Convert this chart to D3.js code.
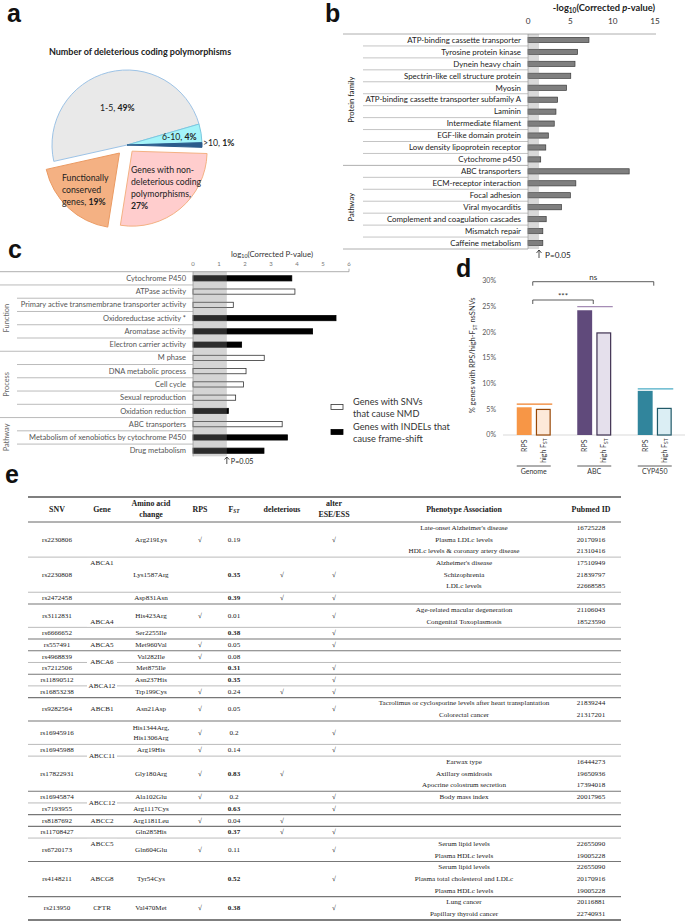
<!DOCTYPE html>
<html><head><meta charset="utf-8">
<script src="https://cdn.jsdelivr.net/npm/d3@7"></script>
<style>body{margin:0;background:#fff}svg{display:block}</style>
</head><body>
<svg id="chart" width="685" height="922"></svg>
<script>
// ---------- DATA ----------
// Panel a
const pieLabels = ["1-5", "6-10", ">10", "Genes with non-deleterious coding polymorphisms", "Functionally conserved genes"];
const pieValues = [49, 4, 1, 27, 19];
// Panel b
const bCategories = ["ATP-binding cassette transporter","Tyrosine protein kinase","Dynein heavy chain","Spectrin-like cell structure protein","Myosin","ATP-binding cassette transporter subfamily A","Laminin","Intermediate filament","EGF-like domain protein","Low density lipoprotein receptor","Cytochrome p450","ABC transporters","ECM-receptor interaction","Focal adhesion","Viral myocarditis","Complement and coagulation cascades","Mismatch repair","Caffeine metabolism"];
const bValues = [7.2,5.85,5.55,5.05,4.55,3.5,3.3,3.1,2.4,2.1,1.5,11.95,5.65,5.0,3.95,2.15,1.75,1.75];
const bGroups = [{name:"Protein family", from:0, to:10},{name:"Pathway", from:11, to:17}];
const bTicks = [0,5,10,15];
// Panel c
const cCategories = ["Cytochrome P450","ATPase activity","Primary active transmembrane transporter activity","Oxidoreductase activity *","Aromatase activity","Electron carrier activity","M phase","DNA metabolic process","Cell cycle","Sexual reproduction","Oxidation reduction","ABC transporters","Metabolism of xenobiotics by cytochrome P450","Drug metabolism"];
const cValues = [3.8,3.92,1.55,5.5,4.6,1.87,2.74,2.04,1.94,1.64,1.36,3.43,3.63,2.73];
const cTypes = ["indel","snv","snv","indel","indel","indel","snv","snv","snv","snv","indel","snv","indel","indel"];
const cGroups = [{name:"Function", from:1, to:5},{name:"Process", from:6, to:10},{name:"Pathway", from:11, to:13}];
const cTicks = [0,1,2,3,4,5,6];
// Panel d
const dGroups = ["Genome","ABC","CYP450"];
const dRPS = [0.054, 0.243, 0.086];
const dHighFst = [0.051, 0.200, 0.053];
const dRef = [0.06, 0.25, 0.09];
const dTicks = [0,0.05,0.10,0.15,0.20,0.25,0.30];
// Panel e (table)
const tSNV = ["rs2230806","rs2230808","rs2472458","rs3112831","rs6666652","rs557491","rs4968839","rs7212506","rs11890512","rs16853238","rs9282564","rs16945916","rs16945988","rs17822931","rs16945874","rs7193955","rs8187692","rs11708427","rs6720173","rs4148211","rs213950"];
const tGene = ["ABCA1","ABCA1","ABCA1","ABCA4","ABCA4","ABCA5","ABCA6","ABCA6","ABCA12","ABCA12","ABCB1","ABCC11","ABCC11","ABCC11","ABCC12","ABCC12","ABCC2","ABCC5","ABCC5","ABCG8","CFTR"];
const tAA = [["Arg219Lys"],["Lys1587Arg"],["Asp831Asn"],["His423Arg"],["Ser2255Ile"],["Met960Val"],["Val282Ile"],["Met875Ile"],["Asn237His"],["Trp199Cys"],["Asn21Asp"],["His1344Arg,","His1306Arg"],["Arg19His"],["Gly180Arg"],["Ala102Glu"],["Arg1117Cys"],["Arg1181Leu"],["Gln285His"],["Gln604Glu"],["Tyr54Cys"],["Val470Met"]];
const tRPS = [1,0,0,1,0,1,1,0,0,1,1,1,1,1,1,0,1,0,1,0,1];
const tFst = ["0.19","0.35","0.39","0.01","0.38","0.05","0.08","0.31","0.35","0.24","0.05","0.2","0.14","0.83","0.2","0.63","0.04","0.37","0.11","0.52","0.38"];
const tFstBold = [0,1,1,0,1,0,0,1,1,0,0,0,0,1,0,1,0,1,0,1,1];
const tDel = [0,1,1,0,0,0,0,0,0,1,0,0,0,1,0,0,1,1,0,0,0];
const tEse = [1,1,1,1,1,1,0,1,1,1,1,1,1,0,1,1,0,1,1,1,1];
const tPheno = [["Late-onset Alzheimer's disease","Plasma LDLc levels","HDLc levels & coronary artery disease"],["Alzheimer's disease","Schizophrenia","LDLc levels"],[],["Age-related macular degeneration","Congenital Toxoplasmosis"],[],[],[],[],[],[],["Tacrolimus or cyclosporine levels after heart transplantation","Colorectal cancer"],[],[],["Earwax type","Axillary osmidrosis","Apocrine colostrum secretion"],["Body mass index"],[],[],[],["Serum lipid levels","Plasma HDLc levels"],["Serum lipid levels","Plasma total cholesterol and LDLc","Plasma HDLc levels"],["Lung cancer","Papillary thyroid cancer"]];
const tPubmed = [["16725228","20170916","21310416"],["17510949","21839797","22668585"],[],["21106043","18523590"],[],[],[],[],[],[],["21839244","21317201"],[],[],["16444273","19650936","17394018"],["20017965"],[],[],[],["22655090","19005228"],["22655090","20170916","19005228"],["20116881","22740931"]];

// ---------- DRAW ----------
const svg = d3.select("#chart");
const SANS = "Lato, 'Open Sans', 'Noto Sans', sans-serif";
const SERIF = "'Liberation Serif', 'DejaVu Serif', serif";
const ARIAL = "'Liberation Sans', Arial, sans-serif";

function panelLabel(t, x, y) {
  svg.append("text").attr("x", x).attr("y", y).text(t)
    .attr("font-family", ARIAL).attr("font-weight", "bold").attr("font-size", 25).attr("fill", "#111");
}
panelLabel("a", 7, 22); panelLabel("b", 325, 22); panelLabel("c", 8, 258); panelLabel("d", 456, 277); panelLabel("e", 5, 483);

// ===== Panel a =====
(function(){
  const g = svg.append("g");
  g.append("text").attr("x", 140).attr("y", 55).attr("text-anchor", "middle")
    .attr("font-family", SANS).attr("font-weight", "bold").attr("font-size", 9).attr("fill", "#222")
    .text("Number of deleterious coding polymorphisms");
  const fills = ["#e9e9e9", "#a4f4f9", "#2b5b8b", "#ffcdcd", "#f4b183"];
  const strokes = ["#9dc3e6", "#7cc8df", "#2b5b8b", "#f4b183", "#eb9a62"];
  const explode = [0, 0, 0, 8, 11];
  const sa = -102.6 * Math.PI / 180;
  const pie = d3.pie().sort(null).value(d => d).startAngle(sa).endAngle(sa + 2 * Math.PI);
  const arc = d3.arc().innerRadius(0).outerRadius(75);
  const pg = g.append("g").attr("transform", "translate(127,145)");
  pg.selectAll("path").data(pie(pieValues)).join("path")
    .attr("d", arc)
    .attr("transform", (d, i) => { const m = (d.startAngle + d.endAngle) / 2; return `translate(${explode[i]*Math.sin(m)},${-explode[i]*Math.cos(m)})`; })
    .attr("fill", (d, i) => fills[i]).attr("stroke", (d, i) => strokes[i]).attr("stroke-width", 1);
  function lab(x, y, parts) {
    const t = g.append("text").attr("x", x).attr("y", y).attr("font-family", SANS).attr("font-size", 8.7).attr("fill", "#222");
    parts.forEach(p => t.append("tspan").text(p[0]).attr("font-weight", p[1] ? "bold" : "normal"));
  }
  lab(100, 111, [[pieLabels[0] + ", ", 0], [pieValues[0] + "%", 1]]);
  lab(162, 140, [[pieLabels[1] + ", ", 0], [pieValues[1] + "%", 1]]);
  lab(203, 146, [[pieLabels[2] + ", ", 0], [pieValues[2] + "%", 1]]);
  lab(62, 181, [["Functionally", 0]]);
  lab(62, 193, [["conserved", 0]]);
  lab(62, 205, [["genes, ", 0], [pieValues[4] + "%", 1]]);
  lab(131, 173, [["Genes with non-", 0]]);
  lab(131, 185, [["deleterious coding", 0]]);
  lab(131, 197, [["polymorphisms,", 0]]);
  lab(131, 209, [[pieValues[3] + "%", 1]]);
})();

// ===== Panel b =====
(function(){
  const g = svg.append("g");
  const x = d3.scaleLinear().domain([0, 15]).range([528, 655]);
  const y = d3.scaleBand().domain(d3.range(bCategories.length)).range([34, 249]);
  const t = g.append("text").attr("x", 604).attr("y", 11).attr("text-anchor", "middle")
    .attr("font-family", SANS).attr("font-weight", "bold").attr("font-size", 9.3).attr("fill", "#222");
  t.append("tspan").text("-log");
  t.append("tspan").text("10").attr("font-size", 6.5).attr("dy", 2);
  t.append("tspan").text("(Corrected ").attr("dy", -2);
  t.append("tspan").text("p").attr("font-style", "italic");
  t.append("tspan").text("-value)");
  g.selectAll(".tk").data(bTicks).join("text").attr("x", d => x(d)).attr("y", 24).attr("text-anchor", "middle")
    .attr("font-family", SANS).attr("font-size", 8.2).attr("fill", "#333").text(d => d);
  const bounds = d3.range(bCategories.length + 1);
  const groupStarts = new Set(bGroups.map(gr => gr.from).concat([bCategories.length]));
  g.selectAll(".sep").data(bounds).join("line")
    .attr("x1", d => groupStarts.has(d) ? 343 : 363).attr("x2", d => d === 0 ? 656 : 528)
    .attr("y1", d => y.range()[0] + d * y.step()).attr("y2", d => y.range()[0] + d * y.step())
    .attr("stroke", d => groupStarts.has(d) || d === 0 ? "#9a9a9a" : "#b5b5b5").attr("stroke-width", 0.8);
  const bh = 5.2;
  g.selectAll(".bar").data(bValues).join("rect")
    .attr("x", x(0)).attr("y", (d, i) => y(i) + y.bandwidth() / 2 - bh / 2)
    .attr("width", d => x(d) - x(0)).attr("height", bh)
    .attr("fill", "#7f7f7f").attr("stroke", "#3a3a3a").attr("stroke-width", 0.7);
  g.append("rect").attr("x", x(0)).attr("y", 34).attr("width", x(-Math.log10(0.05)) - x(0)).attr("height", 215)
    .attr("fill", "#808080").attr("opacity", 0.3);
  g.append("line").attr("x1", x(0)).attr("x2", x(0)).attr("y1", 34).attr("y2", 249).attr("stroke", "#999").attr("stroke-width", 0.7);
  g.selectAll(".lb").data(bCategories).join("text")
    .attr("x", 521).attr("y", (d, i) => y(i) + y.bandwidth() / 2 + 2.8).attr("text-anchor", "end")
    .attr("font-family", SANS).attr("font-size", 7.9).attr("fill", "#222").text(d => d);
  bGroups.forEach(gr => {
    const cy = (y(gr.from) + y(gr.to) + y.bandwidth()) / 2;
    g.append("text").attr("transform", `translate(354,${cy}) rotate(-90)`).attr("text-anchor", "middle")
      .attr("font-family", SANS).attr("font-size", 7.6).attr("fill", "#222").text(gr.name);
  });
  const px = x(-Math.log10(0.05));
  g.append("path").attr("d", `M${px},258 L${px},250 M${px-2.5},253 L${px},250 L${px+2.5},253`).attr("stroke", "#222").attr("fill", "none").attr("stroke-width", 0.8);
  g.append("text").attr("x", px + 6).attr("y", 258).attr("font-family", SANS).attr("font-size", 8.2).attr("fill", "#222").text("P=0.05");
})();

// ===== Panel c =====
(function(){
  const g = svg.append("g");
  const x = d3.scaleLinear().domain([0, 6]).range([193, 349]);
  const y = d3.scaleBand().domain(d3.range(cCategories.length)).range([271.7, 271.7 + 13.26 * cCategories.length]);
  const bottom = y.range()[1] - 1;
  g.selectAll(".tk").data(cTicks).join("text").attr("x", d => x(d)).attr("y", 266).attr("text-anchor", "middle")
    .attr("font-family", SANS).attr("font-size", 6).attr("fill", "#777").text(d => d);
  const t = g.append("text").attr("x", 272).attr("y", 257).attr("text-anchor", "middle")
    .attr("font-family", SANS).attr("font-size", 7.8).attr("fill", "#333");
  t.append("tspan").text("log");
  t.append("tspan").text("10").attr("font-size", 5.3).attr("dy", 1.3);
  t.append("tspan").text("(Corrected P-value)").attr("dy", -1.3);
  g.append("line").attr("x1", 0).attr("x2", x(6)).attr("y1", y.range()[0]).attr("y2", y.range()[0]).attr("stroke", "#999").attr("stroke-width", 0.8);
  g.append("line").attr("x1", x(6)).attr("x2", x(6)).attr("y1", y.range()[0]).attr("y2", y.range()[0] - 3).attr("stroke", "#999").attr("stroke-width", 0.8);
  const groupStarts = new Set(cGroups.map(gr => gr.from));
  g.selectAll(".sep").data(d3.range(1, cCategories.length)).join("line")
    .attr("x1", d => groupStarts.has(d) ? 0 : 17).attr("x2", x(0))
    .attr("y1", d => y.range()[0] + d * y.step()).attr("y2", d => y.range()[0] + d * y.step())
    .attr("stroke", "#aaa").attr("stroke-width", 0.8);
  const bh = 5.2;
  g.selectAll(".bar").data(cValues).join("rect")
    .attr("x", x(0)).attr("y", (d, i) => y(i) + y.bandwidth() / 2 - bh / 2)
    .attr("width", d => x(d) - x(0)).attr("height", bh)
    .attr("fill", (d, i) => cTypes[i] === "indel" ? "#000" : "#fff")
    .attr("stroke", (d, i) => cTypes[i] === "indel" ? "#000" : "#333").attr("stroke-width", 0.8);
  g.append("rect").attr("x", x(0)).attr("y", y.range()[0]).attr("width", x(-Math.log10(0.05)) - x(0)).attr("height", bottom - y.range()[0])
    .attr("fill", "#808080").attr("opacity", 0.34);
  g.append("line").attr("x1", x(0)).attr("x2", x(0)).attr("y1", y.range()[0]).attr("y2", bottom).attr("stroke", "#999").attr("stroke-width", 0.8);
  g.selectAll(".lb").data(cCategories).join("text")
    .attr("x", 186).attr("y", (d, i) => y(i) + y.bandwidth() / 2 + 2.6).attr("text-anchor", "end")
    .attr("font-family", SANS).attr("font-size", 7.5).attr("fill", "#555").text(d => d);
  cGroups.forEach(gr => {
    const cy = (y(gr.from) + y(gr.to) + y.bandwidth()) / 2;
    g.append("text").attr("transform", `translate(9,${cy}) rotate(-90)`).attr("text-anchor", "middle")
      .attr("font-family", SANS).attr("font-size", 7.4).attr("fill", "#666").text(gr.name);
  });
  const px = x(-Math.log10(0.05));
  g.append("path").attr("d", `M${px},464 L${px},457 M${px-2.3},459.5 L${px},457 L${px+2.3},459.5`).attr("stroke", "#222").attr("fill", "none").attr("stroke-width", 0.8);
  g.append("text").attr("x", px + 4).attr("y", 463.5).attr("font-family", SANS).attr("font-size", 7.2).attr("fill", "#222").text("P=0.05");
  const lg = [{type:"snv", lines:["Genes with SNVs","that cause NMD"], y:407}, {type:"indel", lines:["Genes with INDELs that","cause frame-shift"], y:432}];
  lg.forEach(l => {
    g.append("rect").attr("x", 331).attr("y", l.y - 2.5).attr("width", 12).attr("height", 5)
      .attr("fill", l.type === "indel" ? "#000" : "#fff").attr("stroke", l.type === "indel" ? "#000" : "#333").attr("stroke-width", 0.8);
    l.lines.forEach((s, k) => g.append("text").attr("x", 353).attr("y", l.y - 2 + k * 11.5).attr("font-family", SANS)
      .attr("font-size", 9.2).attr("fill", "#333").text(s));
  });
})();

// ===== Panel d =====
(function(){
  const g = svg.append("g");
  const y = d3.scaleLinear().domain([0, 0.30]).range([435, 281]);
  const xg = d3.scaleBand().domain(dGroups).range([503.5, 685]);
  const rpsFill = ["#f79646", "#604a7b", "#31859c"];
  const hiFill = ["#fde9d9", "#e5e0ec", "#dbeef4"];
  const hiStroke = ["#984807", "#3f3151", "#215968"];
  const refCol = ["#f0802a", "#a58cb5", "#4bacc6"];
  const inner = d3.scaleBand().domain(["RPS", "high"]).range([-17, 17]).paddingInner(0.22);
  g.selectAll(".tk").data(dTicks).join("text").attr("x", 496).attr("y", d => y(d) + 2.4).attr("text-anchor", "end")
    .attr("font-family", SANS).attr("font-size", 7).attr("fill", "#595959").text(d => Math.round(d * 100) + "%");
  g.append("line").attr("x1", 503).attr("x2", 685).attr("y1", y(0)).attr("y2", y(0)).attr("stroke", "#d9d9d9").attr("stroke-width", 1);
  const yt = g.append("text").attr("transform", `translate(475,${y(0.155)}) rotate(-90)`).attr("text-anchor", "middle")
    .attr("font-family", SANS).attr("font-size", 7.5).attr("fill", "#333");
  yt.append("tspan").text("% genes with RPS/high-F");
  yt.append("tspan").text("ST").attr("font-size", 5).attr("dy", 1.5);
  yt.append("tspan").text(" nsSNVs").attr("dy", -1.5);
  dGroups.forEach((grp, i) => {
    const c = xg(grp) + xg.bandwidth() / 2;
    g.append("rect").attr("x", c + inner("RPS")).attr("y", y(dRPS[i])).attr("width", inner.bandwidth()).attr("height", y(0) - y(dRPS[i]))
      .attr("fill", rpsFill[i]);
    g.append("rect").attr("x", c + inner("high") + 0.6).attr("y", y(dHighFst[i]) + 0.6).attr("width", inner.bandwidth() - 1.2).attr("height", y(0) - y(dHighFst[i]) - 0.6)
      .attr("fill", hiFill[i]).attr("stroke", hiStroke[i]).attr("stroke-width", 1.2);
    g.append("line").attr("x1", c - 17).attr("x2", c + 18.5).attr("y1", y(dRef[i])).attr("y2", y(dRef[i]))
      .attr("stroke", refCol[i]).attr("stroke-width", 1.2);
    g.append("text").attr("transform", `translate(${c + inner("RPS") + inner.bandwidth()/2 + 2.5},439.5) rotate(-90)`).attr("text-anchor", "end")
      .attr("font-family", SANS).attr("font-size", 7).attr("fill", "#333").text("RPS");
    const ht = g.append("text").attr("transform", `translate(${c + inner("high") + inner.bandwidth()/2 + 2.5},438.5) rotate(-90)`).attr("text-anchor", "end")
      .attr("font-family", SANS).attr("font-size", 7).attr("fill", "#333");
    ht.append("tspan").text("high F");
    ht.append("tspan").text("ST").attr("font-size", 4.8).attr("dy", 1.5);
    g.append("line").attr("x1", c - 17).attr("x2", c + 17).attr("y1", 466).attr("y2", 466).attr("stroke", "#333").attr("stroke-width", 0.8);
    g.append("text").attr("x", c).attr("y", 474).attr("text-anchor", "middle").attr("font-family", SANS).attr("font-size", 7)
      .attr("fill", "#333").text(grp);
  });
  function bracket(g1, g2, yy, label) {
    const a = xg(g1) + xg.bandwidth() / 2 - 1, b = xg(g2) + xg.bandwidth() / 2 - 1;
    g.append("path").attr("d", `M${a},${yy+4} L${a},${yy} L${b},${yy} L${b},${yy+4}`).attr("fill", "none").attr("stroke", "#333").attr("stroke-width", 0.8);
    g.append("text").attr("x", (a + b) / 2).attr("y", yy - 1.5).attr("text-anchor", "middle").attr("font-family", SANS)
      .attr("font-size", 8).attr("fill", "#333").text(label);
  }
  bracket("Genome", "CYP450", 281.7, "ns");
  bracket("Genome", "ABC", 300, "***");
})();

// ===== Panel e (table) =====
(function(){
  const g = svg.append("g");
  const units = tSNV.map((s, i) => Math.max(1, tPheno[i].length, tAA[i].length));
  const total = d3.sum(units);
  const yu = d3.scaleLinear().domain([0, total]).range([522, 920]);
  const cum = [0]; units.forEach(u => cum.push(cum[cum.length - 1] + u));
  const col = {snv:57, gene:102, aa:151, rps:200, fst:234, del:282, ese:334, pheno:464, pm:591};
  const L = 28, R = 621, FS = 7.1;
  function tx(x, y, s, bold, anchor) {
    return g.append("text").attr("x", x).attr("y", y).attr("dominant-baseline", "central").attr("text-anchor", anchor || "middle")
      .attr("font-family", SERIF).attr("font-size", FS).attr("font-weight", bold ? "bold" : "normal").attr("fill", "#222").text(s);
  }
  const hy = 509, HF = 7.9;
  [["SNV", col.snv], ["Gene", col.gene], ["RPS", col.rps], ["deleterious", col.del], ["Phenotype Association", col.pheno], ["Pubmed ID", col.pm]]
    .forEach(h => tx(h[1], hy, h[0], true).attr("font-size", HF));
  tx(col.aa, hy - 5.8, "Amino acid", true).attr("font-size", HF);
  tx(col.aa, hy + 5.8, "change", true).attr("font-size", HF);
  tx(col.ese, hy - 5.8, "alter", true).attr("font-size", HF);
  tx(col.ese, hy + 5.8, "ESE/ESS", true).attr("font-size", HF);
  const f = tx(col.fst, hy, "", true).attr("font-size", HF);
  f.append("tspan").text("F");
  f.append("tspan").text("ST").attr("font-style", "italic").attr("font-size", 5.3).attr("dy", 2);
  g.append("line").attr("x1", L).attr("x2", R).attr("y1", 497).attr("y2", 497).attr("stroke", "#555").attr("stroke-width", 1.3);
  g.append("line").attr("x1", L).attr("x2", R).attr("y1", 522).attr("y2", 522).attr("stroke", "#666").attr("stroke-width", 1);
  cum.slice(1).forEach((c, k) => {
    const last = k === tSNV.length - 1;
    const geneBoundary = last || tGene[k] !== tGene[k + 1];
    g.append("line").attr("x1", L).attr("x2", R).attr("y1", yu(c)).attr("y2", yu(c))
      .attr("stroke", last ? "#555" : (geneBoundary ? "#777" : "#aaa")).attr("stroke-width", last ? 1.3 : (geneBoundary ? 1.1 : 0.8));
  });
  tSNV.forEach((s, i) => {
    const top = yu(cum[i]), bot = yu(cum[i + 1]), mid = (top + bot) / 2, uh = yu(1) - yu(0);
    tx(col.snv, mid, s, false);
    tAA[i].forEach((a, k) => tx(col.aa, mid + (k - (tAA[i].length - 1) / 2) * uh * 0.85, a, false));
    if (tRPS[i]) tx(col.rps, mid, "\u221A", false);
    tx(col.fst, mid, tFst[i], tFstBold[i]);
    if (tDel[i]) tx(col.del, mid, "\u221A", false);
    if (tEse[i]) tx(col.ese, mid, "\u221A", false);
    tPheno[i].forEach((p, k) => tx(col.pheno, mid + (k - (tPheno[i].length - 1) / 2) * uh, p, false));
    tPubmed[i].forEach((p, k) => tx(col.pm, mid + (k - (tPubmed[i].length - 1) / 2) * uh, p, false));
  });
  let i = 0;
  while (i < tGene.length) {
    let j = i; while (j + 1 < tGene.length && tGene[j + 1] === tGene[i]) j++;
    const top = yu(cum[i]), bot = yu(cum[j + 1]), mid = (top + bot) / 2;
    if (j > i) g.append("rect").attr("x", col.gene - 15).attr("y", mid - 5).attr("width", 30).attr("height", 10).attr("fill", "#fff");
    tx(col.gene, mid, tGene[i], false);
    i = j + 1;
  }
})();
</script>
</body></html>
